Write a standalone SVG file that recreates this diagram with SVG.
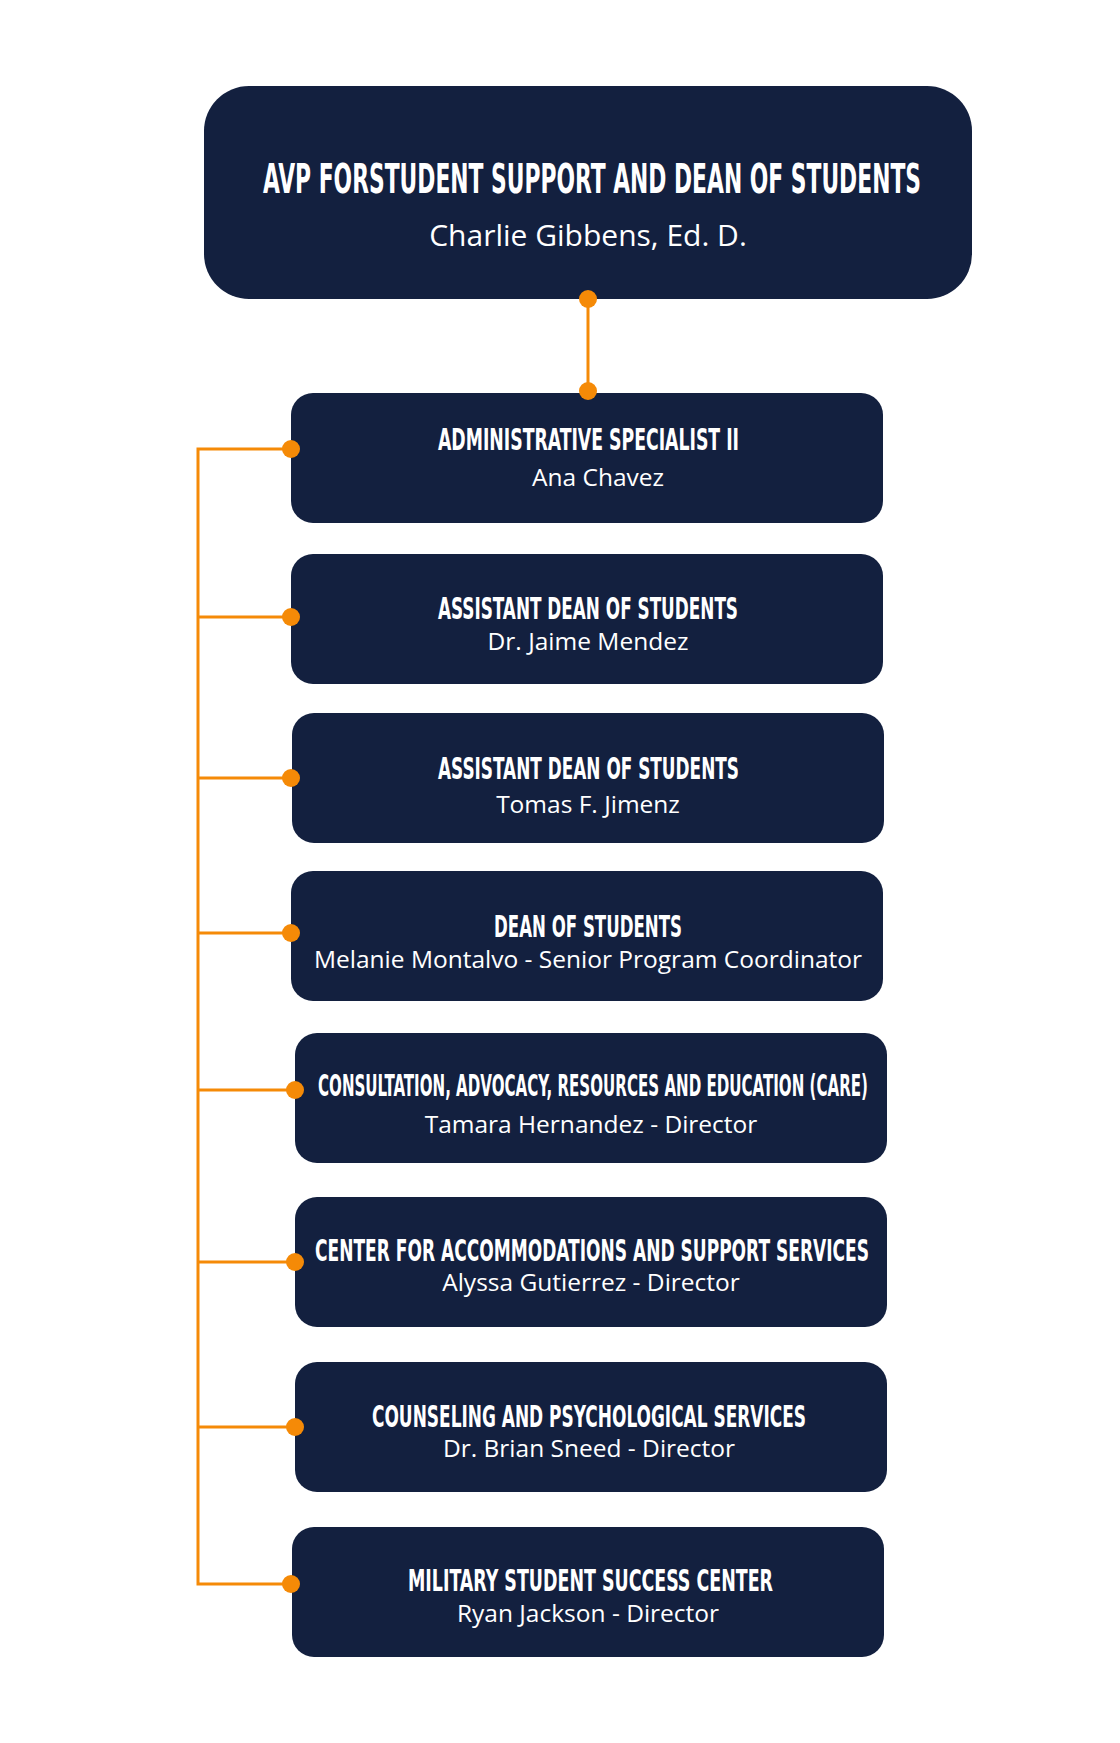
<svg xmlns="http://www.w3.org/2000/svg" width="1120" height="1743" viewBox="0 0 1120 1743">
<style>
.box{fill:#13203f}
.t{fill:#fff;font-family:"DejaVu Sans",sans-serif;font-weight:bold;font-stretch:condensed;text-anchor:start}
.s{fill:#fff;font-family:"Open Sans",sans-serif;font-size:24.5px;text-anchor:middle}
.ln{stroke:#f58a07;stroke-width:3;fill:none}
.dot{fill:#f58a07}
</style>
<rect width="1120" height="1743" fill="#fff"/>
<g id="n0"><rect class="box" x="204" y="86" width="768" height="213" rx="45"/>
<text class="t" x="263" y="193" font-size="40" textLength="658" lengthAdjust="spacingAndGlyphs">AVP FORSTUDENT SUPPORT AND DEAN OF STUDENTS</text>
<text class="s" x="588" y="246" style="font-size:30px">Charlie Gibbens, Ed. D.</text></g>
<g id="n1"><rect class="box" x="291" y="393" width="592" height="130" rx="22"/>
<text class="t" x="438" y="450" font-size="30" textLength="301" lengthAdjust="spacingAndGlyphs">ADMINISTRATIVE SPECIALIST II</text>
<text class="s" x="598" y="486">Ana Chavez</text></g>
<g id="n2"><rect class="box" x="291" y="554" width="592" height="130" rx="22"/>
<text class="t" x="438" y="619" font-size="30" textLength="300" lengthAdjust="spacingAndGlyphs">ASSISTANT DEAN OF STUDENTS</text>
<text class="s" x="588" y="650">Dr. Jaime Mendez</text></g>
<g id="n3"><rect class="box" x="292" y="713" width="592" height="130" rx="22"/>
<text class="t" x="438" y="779" font-size="30" textLength="301" lengthAdjust="spacingAndGlyphs">ASSISTANT DEAN OF STUDENTS</text>
<text class="s" x="588" y="813">Tomas F. Jimenz</text></g>
<g id="n4"><rect class="box" x="291" y="871" width="592" height="130" rx="22"/>
<text class="t" x="494" y="937" font-size="30" textLength="188" lengthAdjust="spacingAndGlyphs">DEAN OF STUDENTS</text>
<text class="s" x="588" y="968">Melanie Montalvo - Senior Program Coordinator</text></g>
<g id="n5"><rect class="box" x="295" y="1033" width="592" height="130" rx="22"/>
<text class="t" x="318" y="1096" font-size="30" textLength="550" lengthAdjust="spacingAndGlyphs">CONSULTATION, ADVOCACY, RESOURCES AND EDUCATION (CARE)</text>
<text class="s" x="591" y="1133">Tamara Hernandez - Director</text></g>
<g id="n6"><rect class="box" x="295" y="1197" width="592" height="130" rx="22"/>
<text class="t" x="315" y="1261" font-size="30" textLength="554" lengthAdjust="spacingAndGlyphs">CENTER FOR ACCOMMODATIONS AND SUPPORT SERVICES</text>
<text class="s" x="591" y="1291">Alyssa Gutierrez - Director</text></g>
<g id="n7"><rect class="box" x="295" y="1362" width="592" height="130" rx="22"/>
<text class="t" x="372" y="1427" font-size="30" textLength="434" lengthAdjust="spacingAndGlyphs">COUNSELING AND PSYCHOLOGICAL SERVICES</text>
<text class="s" x="589" y="1457">Dr. Brian Sneed - Director</text></g>
<g id="n8"><rect class="box" x="292" y="1527" width="592" height="130" rx="22"/>
<text class="t" x="408" y="1591" font-size="30" textLength="365" lengthAdjust="spacingAndGlyphs">MILITARY STUDENT SUCCESS CENTER</text>
<text class="s" x="588" y="1622">Ryan Jackson - Director</text></g>
<g id="connectors">
<path class="ln" d="M588 299V391"/>
<circle class="dot" cx="588" cy="299" r="9"/><circle class="dot" cx="588" cy="391" r="9"/>
<path class="ln" d="M291 449H198V1584H291M198 617H291M198 778H291M198 933H291M198 1090H295M198 1262H295M198 1427H295"/>
<circle class="dot" cx="291" cy="449" r="9"/><circle class="dot" cx="291" cy="617" r="9"/><circle class="dot" cx="291" cy="778" r="9"/><circle class="dot" cx="291" cy="933" r="9"/><circle class="dot" cx="295" cy="1090" r="9"/><circle class="dot" cx="295" cy="1262" r="9"/><circle class="dot" cx="295" cy="1427" r="9"/><circle class="dot" cx="291" cy="1584" r="9"/>
</g>
</svg>
